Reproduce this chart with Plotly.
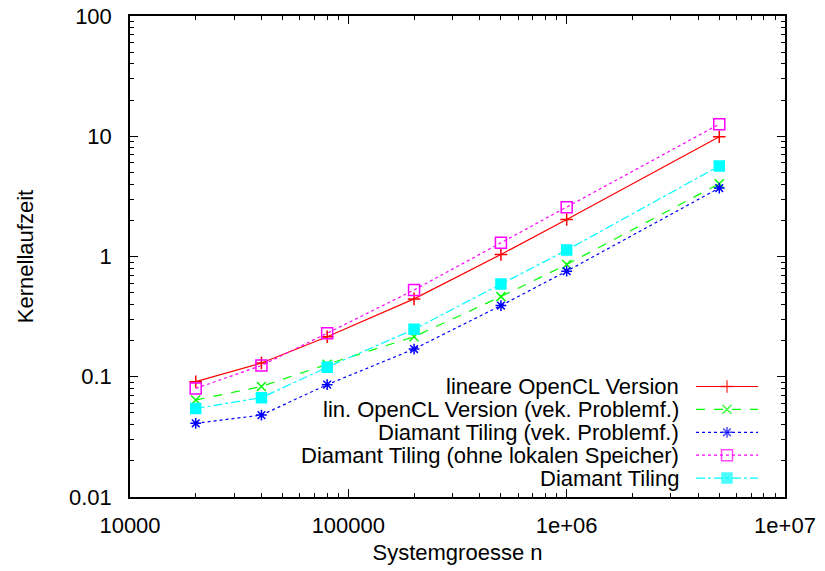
import plotly.graph_objects as go

# ---- data ----
n = [20000, 40000, 80000, 200000, 500000, 1000000, 5000000]
lin_opencl = [0.091, 0.130, 0.215, 0.444, 1.04, 2.03, 9.9]
lin_opencl_vek = [0.064, 0.083, 0.127, 0.215, 0.464, 0.857, 4.03]
diamant_vek = [0.041, 0.048, 0.086, 0.170, 0.391, 0.755, 3.71]
diamant_ohne = [0.080, 0.124, 0.230, 0.527, 1.30, 2.57, 12.6]
diamant = [0.0545, 0.067, 0.120, 0.248, 0.59, 1.13, 5.66]

series_names = [
    "lineare OpenCL Version",
    "lin. OpenCL Version (vek. Problemf.)",
    "Diamant Tiling (vek. Problemf.)",
    "Diamant Tiling (ohne lokalen Speicher)",
    "Diamant Tiling",
]
series_values = [lin_opencl, lin_opencl_vek, diamant_vek, diamant_ohne, diamant]

x_tickvals = [1e4, 1e5, 1e6, 1e7]
x_ticktext = ["10000", "100000", "1e+06", "1e+07"]
y_tickvals = [0.01, 0.1, 1, 10, 100]
y_ticktext = ["0.01", "0.1", "1", "10", "100"]

# ---- styles ----
colors = ["#ff0000", "#00ff00", "#0000ff", "#ff00ff", "#00ffff"]
dashes = ["solid", "dash", "dot", "dot", "dashdot"]
symbols = ["cross-thin-open", "x-thin-open", "asterisk-open", "square-open", "square"]
msizes = [9, 9, 9, 11, 10]

FONT = "Liberation Sans, Arial, Helvetica, sans-serif"
FS = 22

fig = go.Figure()
for name, vals, c, d, s, ms in zip(series_names, series_values, colors, dashes, symbols, msizes):
    fig.add_trace(go.Scatter(
        x=n, y=vals, mode="lines+markers", name=name,
        line=dict(color=c, width=1.2, dash=d),
        marker=dict(symbol=s, size=ms, color=c, line=dict(color=c, width=1.5)),
        showlegend=False,
    ))

W, H = 825, 571
# plot area in window pixels
L, R, T, B = 130, 785, 16, 497

# ---- manual legend (text right-aligned, sample on the right) ----
row_y0, row_dy = 386.5, 22.9
text_right, samp_x0, samp_x1 = 681, 696, 758
for i, (name, c, d, s, ms) in enumerate(zip(series_names, colors, dashes, symbols, msizes)):
    yy = row_y0 + i * row_dy
    fig.add_annotation(x=text_right, y=yy, xref="x2", yref="y2", text=name,
                       showarrow=False, xanchor="right", yanchor="middle",
                       font=dict(family=FONT, size=FS, color="black"))
    fig.add_trace(go.Scatter(
        x=[samp_x0, (samp_x0 + samp_x1) / 2, samp_x1], y=[yy, yy, yy],
        xaxis="x2", yaxis="y2", mode="lines+markers",
        line=dict(color=c, width=1.2, dash=d),
        marker=dict(symbol=s, size=[0, ms, 0], color=c, line=dict(color=c, width=1.5)),
        showlegend=False, hoverinfo="skip",
    ))

axis_common = dict(
    showline=True, linecolor="black", linewidth=1.5, mirror="ticks",
    ticks="inside", ticklen=8, tickcolor="black", tickwidth=1,
    showgrid=False, zeroline=False, automargin=False, ticklabeloverflow="allow",
    tickfont=dict(family=FONT, size=FS, color="black"),
    minor=dict(ticks="inside", ticklen=4, tickcolor="black", dtick="D1", showgrid=False),
)

fig.update_layout(
    width=W, height=H,
    margin=dict(l=L, r=W - R, t=T, b=H - B, autoexpand=False),
    paper_bgcolor="white", plot_bgcolor="white",
    font=dict(family=FONT, size=FS, color="black"),
    xaxis=dict(type="log", range=[4, 7], tickvals=x_tickvals, ticktext=x_ticktext,
               ticklabelstandoff=8,
               title=dict(text="Systemgroesse n", font=dict(family=FONT, size=FS), standoff=7),
               **axis_common),
    yaxis=dict(type="log", range=[-2, 2], tickvals=y_tickvals, ticktext=y_ticktext,
               ticklabelstandoff=12,
               title=dict(text="Kernellaufzeit", font=dict(family=FONT, size=FS), standoff=29),
               **axis_common),
    xaxis2=dict(range=[L, R], overlaying="x", visible=False, fixedrange=True),
    yaxis2=dict(range=[B, T], overlaying="y", visible=False, fixedrange=True),
)

fig.write_html(
    "out.html",
    config={"displayModeBar": False},
    post_script="document.body.style.margin='0';document.body.style.padding='0';",
)
